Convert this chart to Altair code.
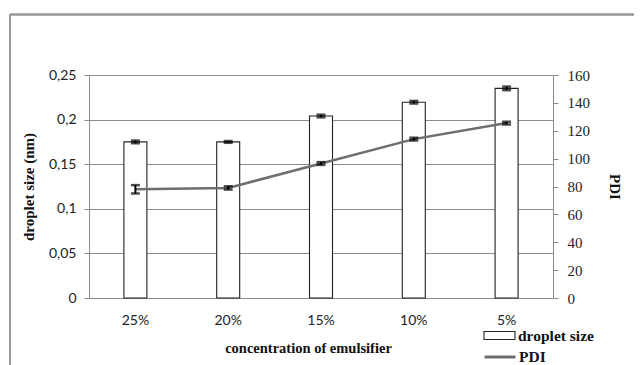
import altair as alt
import pandas as pd

concentration = ["25%", "20%", "15%", "10%", "5%"]
droplet_size = [0.175, 0.175, 0.204, 0.2195, 0.235]
droplet_err = [0.0015, 0.001, 0.0015, 0.0015, 0.002]
pdi = [78, 79, 96.5, 114, 125.5]
pdi_err = [3, 1.2, 1, 1, 1]

df = pd.DataFrame({
    "conc": concentration,
    "size": droplet_size,
    "size_err": droplet_err,
    "pdi": pdi,
    "pdi_err": pdi_err,
})

SERIF = "Liberation Serif"
SANS = "Lato"
GRID = "#8c8c8c"

base = alt.Chart(df).transform_calculate(
    size_lo="datum.size - datum.size_err",
    size_hi="datum.size + datum.size_err",
    pdi_lo="datum.pdi - datum.pdi_err",
    pdi_hi="datum.pdi + datum.pdi_err",
    s_name="'droplet size'",
    p_name="'PDI'",
)

x = alt.X(
    "conc:N", sort=concentration,
    scale=alt.Scale(paddingInner=0, paddingOuter=0),
    axis=alt.Axis(
        title="concentration of emulsifier", labelAngle=0, ticks=False,
        labelPadding=15, labelFont=SANS, labelFontSize=14, labelColor="#222",
        domainColor=GRID, titleFont=SERIF, titleFontWeight="bold",
        titleFontSize=14.5, titlePadding=14, titleX=219, titleColor="#111",
    ),
)

yl_scale = alt.Scale(domain=[0, 0.25], nice=False)
yl_axis = alt.Axis(
    title="droplet size (nm)", values=[0, 0.05, 0.1, 0.15, 0.2, 0.25],
    labelExpr="replace(format(datum.value, '.2~f'), '.', ',')",
    grid=True, gridColor=GRID, tickColor=GRID, domainColor=GRID,
    tickSize=5, labelPadding=8, labelFont=SANS, labelFontSize=14,
    labelColor="#222", titleFont=SERIF, titleFontWeight="bold",
    titleFontSize=15, titlePadding=12, titleColor="#111",
)

bars = base.mark_bar(size=23, stroke="#222", strokeWidth=1.1).encode(
    x=x,
    y=alt.Y("size:Q", scale=yl_scale, axis=yl_axis),
    fill=alt.Fill("s_name:N", scale=alt.Scale(domain=["droplet size"], range=["white"]),
                  legend=alt.Legend(
                      title=None, orient="none", legendX=394, legendY=244,
                      symbolType="M-1,-0.26H1V0.26H-1Z", symbolSize=961,
                      symbolStrokeColor="#222", symbolStrokeWidth=1.1,
                      labelFont=SERIF, labelFontWeight="bold", labelFontSize=15.5,
                      labelColor="#111", labelOffset=2, padding=0)),
)
size_rule = base.mark_rule(color="black", strokeWidth=2).encode(
    x=x, y=alt.Y("size_lo:Q", scale=yl_scale, axis=yl_axis), y2="size_hi:Q")
size_lo = base.mark_tick(color="black", size=9, thickness=2.5).encode(
    x=x, y=alt.Y("size_lo:Q", scale=yl_scale, axis=yl_axis))
size_hi = base.mark_tick(color="black", size=9, thickness=2.5).encode(
    x=x, y=alt.Y("size_hi:Q", scale=yl_scale, axis=yl_axis))

left = alt.layer(bars, size_rule, size_lo, size_hi)

yr_scale = alt.Scale(domain=[0, 160], nice=False)
yr_axis = alt.Axis(
    title="PDI", orient="right", values=list(range(0, 161, 20)),
    grid=False, tickColor=GRID, domainColor=GRID, tickSize=5,
    labelPadding=9, labelFont=SERIF, labelFontSize=15, labelColor="#222",
    titleFont=SERIF, titleFontWeight="bold", titleFontSize=15,
    titlePadding=17, titleColor="#111",
)
line = base.mark_line(strokeWidth=2.5).encode(
    x=x,
    y=alt.Y("pdi:Q", scale=yr_scale, axis=yr_axis),
    stroke=alt.Stroke("p_name:N", scale=alt.Scale(domain=["PDI"], range=["#6e6e6e"]),
                      legend=alt.Legend(
                          title=None, orient="none", legendX=394, legendY=265,
                          symbolType="stroke", symbolSize=961, symbolStrokeWidth=3,
                          labelFont=SERIF, labelFontWeight="bold", labelFontSize=15.5,
                          labelColor="#111", labelOffset=2, padding=0)),
)
pdi_rule = base.mark_rule(color="black", strokeWidth=2).encode(
    x=x, y=alt.Y("pdi_lo:Q", scale=yr_scale, axis=yr_axis), y2="pdi_hi:Q")
pdi_lo = base.mark_tick(color="black", size=9, thickness=2.5).encode(
    x=x, y=alt.Y("pdi_lo:Q", scale=yr_scale, axis=yr_axis))
pdi_hi = base.mark_tick(color="black", size=9, thickness=2.5).encode(
    x=x, y=alt.Y("pdi_hi:Q", scale=yr_scale, axis=yr_axis))

right = alt.layer(line, pdi_rule, pdi_lo, pdi_hi)

frame_left = alt.Chart(df).mark_rule(color="#999", strokeWidth=1.5).encode(
    x=alt.value(-79), y=alt.value(-60.5), y2=alt.value(300))
frame_top = alt.Chart(df).mark_rule(color="#999", strokeWidth=1.5).encode(
    x=alt.value(-79), x2=alt.value(560), y=alt.value(-60.5))

chart = alt.layer(left, right, frame_left, frame_top).resolve_scale(
    y="independent"
).properties(
    width=464, height=223,
    autosize=alt.AutoSizeParams(type="none"),
    padding={"left": 81, "top": 67, "right": 81, "bottom": 67},
).configure_view(stroke=None)

chart.save("out.html", embed_options={"renderer": "svg", "actions": False})
